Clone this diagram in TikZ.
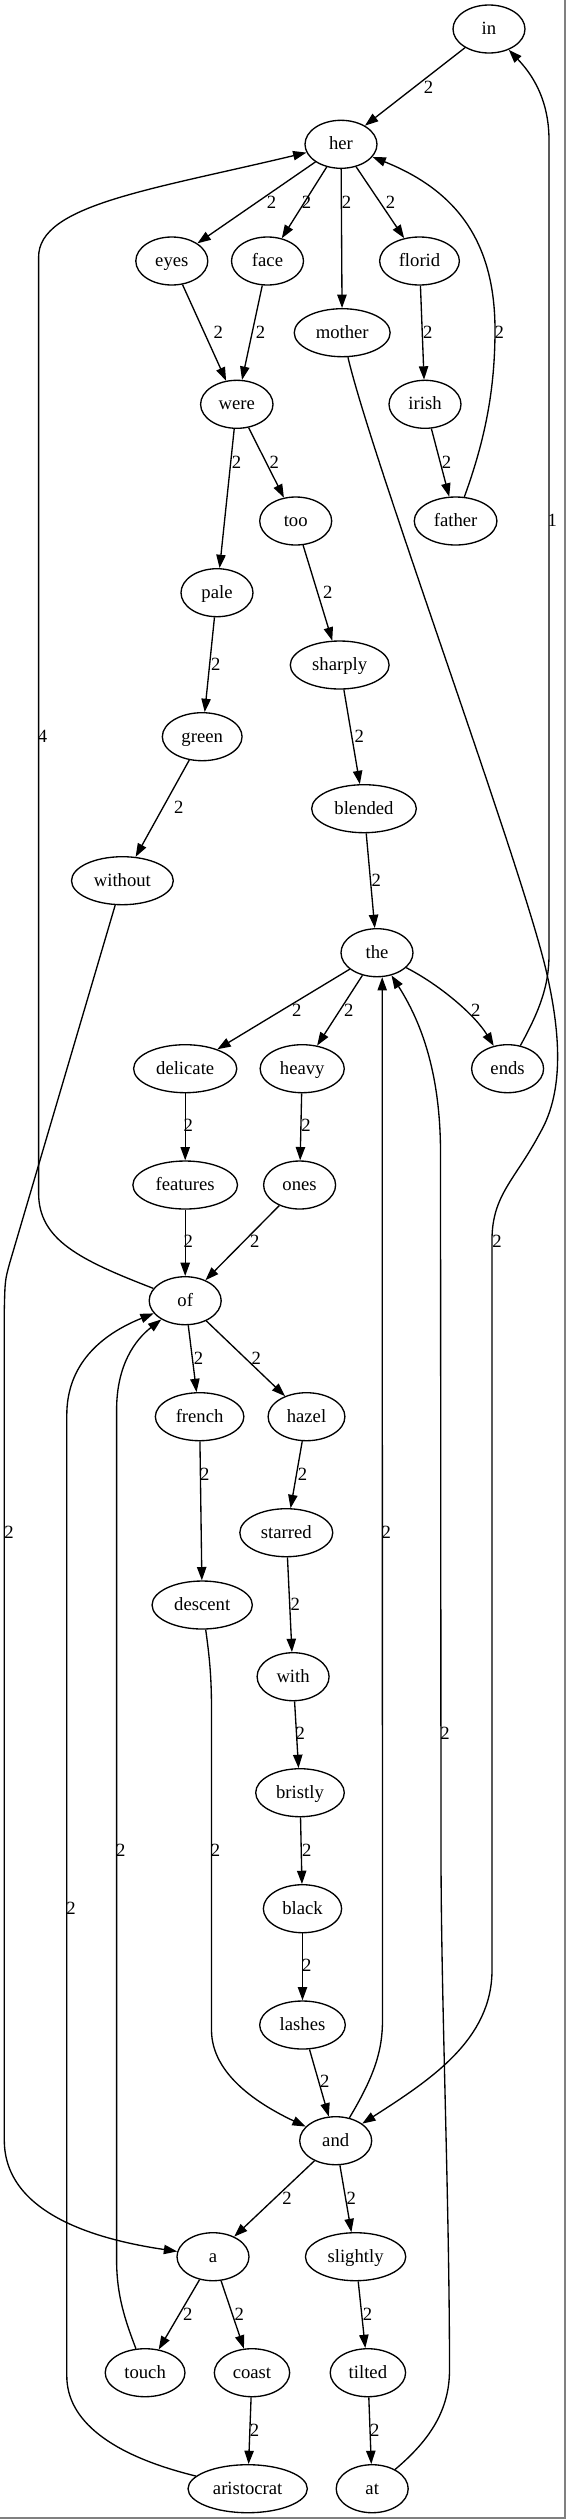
\documentclass[tikz,border=0pt]{standalone}
\usepackage{fontspec}
\setmainfont{Liberation Serif}
\usetikzlibrary{arrows.meta,shapes.geometric}

\tikzset{
  word/.style={draw, ellipse, line width=1bp, minimum width=54bp, minimum height=36bp,
    inner xsep=5.6bp, inner ysep=1bp, text height=11bp, text depth=2.5bp,
    font=\fontsize{14bp}{16bp}\selectfont},
  lbl/.style={inner sep=0pt, font=\fontsize{14bp}{16bp}\selectfont},
  edge/.style={line width=1bp, -{Triangle[length=10bp,width=7bp]}}
}

\begin{document}
\begin{tikzpicture}[x=0.75bp, y=-0.75bp]
\useasboundingbox (0,0) rectangle (566,2519);
\fill[white] (0,0) rectangle (566,2519);
\draw[gray, line width=1.1bp] (565,0) -- (565,2518) -- (0,2518);

\foreach \n/\x/\y in {in/489/29, her/341/144.3, eyes/171.8/261, face/267.5/261,
  florid/419.5/261, mother/342.2/332.7, were/236.8/404.3, irish/425/404.3,
  too/295.7/521, father/455.6/521, pale/217/592.7, sharply/339.7/665,
  green/202.2/736.7, blended/364/808.7, without/122.4/880.7, the/377/952.7,
  delicate/185.2/1068.7, heavy/302.2/1068.7, ends/507.6/1068.7,
  features/185.2/1185, ones/299.6/1185, of/185.2/1300.7, french/199.6/1416.7,
  hazel/306.5/1416.7, starred/286.3/1532.7, descent/202.2/1605,
  with/293.1/1676.7, bristly/300/1792.7, black/302.5/1908.7,
  lashes/302.5/2025, and/335.7/2140.7, a/213/2256.7, slightly/355.6/2256.7,
  touch/145.1/2372.7, coast/252/2372.7, tilted/367.9/2372.7,
  aristocrat/247.7/2488.7, at/372.2/2488.7}
  \node[word] (\n) at (\x,\y) {\n};

\foreach \s/\t in {in/her, her/eyes, her/face, her/mother, her/florid, eyes/were,
  face/were, florid/irish, irish/father, were/pale, were/too, too/sharply,
  pale/green, sharply/blended, green/without, blended/the, the/delicate,
  the/heavy, delicate/features, heavy/ones, features/of, ones/of, of/french,
  of/hazel, french/descent, hazel/starred, starred/with, with/bristly,
  bristly/black, black/lashes, lashes/and, and/a, and/slightly, a/touch,
  a/coast, coast/aristocrat, slightly/tilted, tilted/at}
  \draw[edge] (\s) -- (\t);

% long edges
\draw[edge] (father) .. controls (485,440) and (495,390) .. (495,330)
  .. controls (495,240) and (455,190) .. (her);
\draw[edge] (ends) .. controls (540,1010) and (549,985) .. (549,955)
  -- (549,140) .. controls (549,95) and (528,70) .. (in);
\draw[edge] (of) .. controls (80,1260) and (38.6,1240) .. (38.6,1193)
  -- (38.6,257) .. controls (38.6,205) and (150,190) .. (her);
\draw[edge] (mother) .. controls (372,460) and (520,860) .. (546,970)
  .. controls (560,1030) and (565,1090) .. (540,1133)
  .. controls (515,1180) and (492,1195) .. (492,1240)
  -- (492,1970) .. controls (492,2040) and (430,2080) .. (and);
\draw[edge] (the) .. controls (440,985) and (475,1015) .. (ends);
\draw[edge] (and) .. controls (375,2075) and (382.5,2050) .. (382.5,2020)
  -- (the.-78);
\draw[edge] (at) .. controls (430,2440) and (449.5,2410) .. (449.5,2370)
  .. controls (449.5,2200) and (441,2000) .. (441,1850)
  -- (440.5,1150) .. controls (440,1070) and (420,1020) .. (the);
\draw[edge] (descent) .. controls (210,1660) and (211.5,1680) .. (211.5,1710)
  -- (211.5,2030) .. controls (211.5,2075) and (260,2105) .. (and);
\draw[edge] (without) -- (10,1262) .. controls (5,1280) .. (4.3,1310)
  -- (4.3,2140) .. controls (4.3,2215) and (100,2240) .. (a);
\draw[edge] (touch) .. controls (125,2320) and (116.6,2295) .. (116.6,2260)
  -- (116.6,1410) .. controls (116.6,1365) and (135,1340) .. (of);
\draw[edge] (aristocrat) .. controls (110,2455) and (66.8,2420) .. (66.8,2376)
  -- (66.8,1415) .. controls (66.8,1365) and (100,1335) .. (of);

% edge labels
\foreach \p [count=\i] in {(428.5,87.3), (271.5,202.3), (306.5,202.3),
  (346.6,202.3), (390.6,202.3), (218.4,332.3), (260.6,332.3), (427.8,332.3),
  (499.3,332.3), (446.6,462.3), (236.5,462.3), (274.4,462.3), (327.8,592.3),
  (215.9,664.3), (359.2,736), (178.7,807.7), (376.2,880.7), (296.8,1010.7),
  (348.7,1010.7), (475.8,1010.7), (188.4,1125.7), (306.1,1125.7),
  (188.4,1241.7), (254.9,1241.7), (497.1,1241.7), (198.6,1358.3),
  (256.3,1358.3), (204.7,1474.3), (302.5,1474.3), (9,1532.7), (386.3,1532.7),
  (295.3,1604), (300.4,1733.3), (445.1,1733.3), (120.9,1850), (215.5,1850),
  (306.9,1850), (71.1,1908.3), (306.9,1965.7), (324.9,2081.7), (287,2198.3),
  (351.3,2198.3), (187.7,2314.3), (239.4,2314.3), (367.5,2314.3),
  (254.5,2430), (374.7,2430)}
  \node[lbl] (l\i) at \p {2};
\node[lbl] (lfour) at (42.6,736) {4};
\node[lbl] (lone) at (552.3,520) {1};
\end{tikzpicture}
\end{document}
